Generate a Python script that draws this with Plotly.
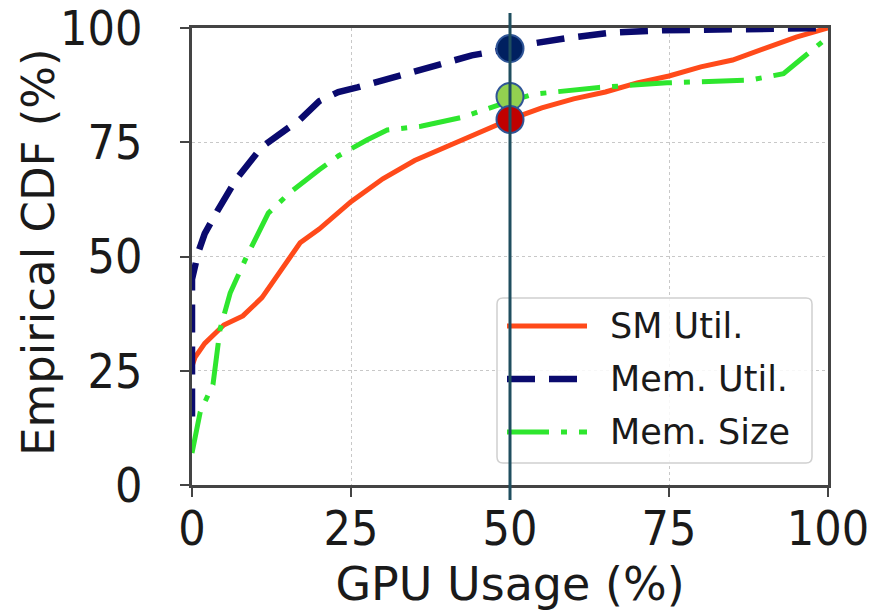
import plotly.graph_objects as go

# ---- data ----
sm_x = [0, 0.5, 2, 5, 8, 11, 13, 15, 17, 20, 25, 30, 35, 40, 45, 50, 55, 60, 65, 70, 75, 80, 85, 90, 95, 100]
sm_y = [26, 28, 31, 35, 37, 41, 45, 49, 53, 56, 62, 67, 71, 74, 77, 80, 82.5, 84.5, 86, 88, 89.5, 91.5, 93, 95.5, 98, 100]

mem_util_x = [0, 0, 1, 2, 4, 7, 11, 14, 17, 20, 23, 26, 30, 35, 40, 44, 50, 54, 59, 66, 74, 88, 100]
mem_util_y = [15, 45, 51, 55, 60, 67, 74, 77, 80, 84, 86, 87, 88.6, 90.5, 92.5, 94, 95.5, 96.7, 97.8, 99, 99.5, 99.8, 100]

mem_size_x = [0, 1.3, 3.3, 4.4, 6, 8.6, 12, 15.4, 20, 23, 27.5, 30.7, 36, 42.6, 50, 53.6, 64, 74.7, 87.7, 93, 95.6, 100]
mem_size_y = [7, 16, 22, 34, 42, 50, 59.5, 64, 69, 72, 75.5, 77.7, 78.5, 80.5, 84, 85.5, 87, 88, 88.6, 90, 93, 98]

marker_x = [50, 50, 50]
marker_y = [95.5, 85, 80]
marker_colors = ["#002060", "#92d050", "#c00000"]

tick_vals = [0, 25, 50, 75, 100]
tick_text = ["0", "25", "50", "75", "100"]

series_names = ["SM Util.", "Mem. Util.", "Mem. Size"]
series_colors = ["#ff4a1a", "#0a0a6e", "#2ee62e"]
series_dash = ["solid", "28px,14px", "42px,12px,6px,12px"]
series_width = [5, 6.5, 5]

x_title = "GPU Usage (%)"
y_title = "Empirical CDF (%)"

cut_x = 50

FONT = "DejaVu Sans"
TICKFONT = "DejaVu Sans Condensed, DejaVu Sans"
TXT = "#1a1a1a"

fig = go.Figure()
for xs, ys, i in [(sm_x, sm_y, 0), (mem_util_x, mem_util_y, 1), (mem_size_x, mem_size_y, 2)]:
    fig.add_trace(go.Scatter(x=xs, y=ys, mode="lines", name=series_names[i], showlegend=False,
                             line=dict(color=series_colors[i], width=series_width[i], dash=series_dash[i])))

# legend (drawn manually to match long sample lines)
L, R, B, T = 497, 812, 463, 298  # pixel box
PL, PT, PW, PH = 192, 28, 636, 457
def px(v): return (v - PL) / PW
def py(v): return (PT + PH - v) / PH
r = 6
path = (f"M {px(L + r)},{py(T)} L {px(R - r)},{py(T)} Q {px(R)},{py(T)} {px(R)},{py(T + r)} "
        f"L {px(R)},{py(B - r)} Q {px(R)},{py(B)} {px(R - r)},{py(B)} "
        f"L {px(L + r)},{py(B)} Q {px(L)},{py(B)} {px(L)},{py(B - r)} "
        f"L {px(L)},{py(T + r)} Q {px(L)},{py(T)} {px(L + r)},{py(T)} Z")
fig.add_shape(type="path", xref="paper", yref="paper", path=path,
              fillcolor="rgba(255,255,255,0.85)", line=dict(color="#d0d0d0", width=1.5), layer="above")
rows = [326, 379, 432]
for i, yy in enumerate(rows):
    fig.add_shape(type="line", xref="paper", yref="paper", x0=px(507), x1=px(587), y0=py(yy), y1=py(yy),
                  line=dict(color=series_colors[i], width=series_width[i], dash=series_dash[i]), layer="above")
    fig.add_annotation(xref="paper", yref="paper", x=px(608), y=py(yy), xanchor="left", yanchor="middle",
                       text=series_names[i], showarrow=False, font=dict(family=FONT, size=35, color=TXT))

fig.add_shape(type="line", xref="x", yref="paper", x0=cut_x, x1=cut_x, y0=-0.033, y1=1.033,
              line=dict(color="#1f4e5f", width=3), layer="above")

fig.add_trace(go.Scatter(x=marker_x, y=marker_y, mode="markers", showlegend=False, cliponaxis=False,
                         marker=dict(size=27, color=marker_colors, line=dict(color="#2f5597", width=2))))

# y axis title as rotated text
fig.add_annotation(xref="paper", yref="paper", x=px(38), y=py(252), xanchor="center", yanchor="middle",
                   text=y_title, textangle=-90, showarrow=False, font=dict(family=FONT, size=45, color=TXT))

axis_common = dict(
    range=[0, 100], tickvals=tick_vals, ticktext=tick_text,
    showline=True, linecolor="#444444", linewidth=3, mirror=True,
    ticks="outside", ticklen=9, tickwidth=2, tickcolor="#444444",
    showgrid=True, gridcolor="#c8c8c8", griddash="dot", gridwidth=1,
    zeroline=False, automargin=False, ticklabeloverflow="allow",
    tickfont=dict(family=TICKFONT, size=48, color=TXT),
)

fig.update_layout(
    width=877, height=612,
    margin=dict(l=192, r=49, t=28, b=127),
    paper_bgcolor="white", plot_bgcolor="white",
    xaxis=dict(**axis_common, ticklabelstandoff=-10,
               title=dict(text=x_title, font=dict(family=FONT, size=46, color=TXT), standoff=14)),
    yaxis=dict(**axis_common, ticklabelstandoff=28),
    showlegend=False,
)

fig.write_html("out.html", config={"displayModeBar": False},
               post_script="document.body.style.margin='0';document.body.style.overflow='hidden';")
